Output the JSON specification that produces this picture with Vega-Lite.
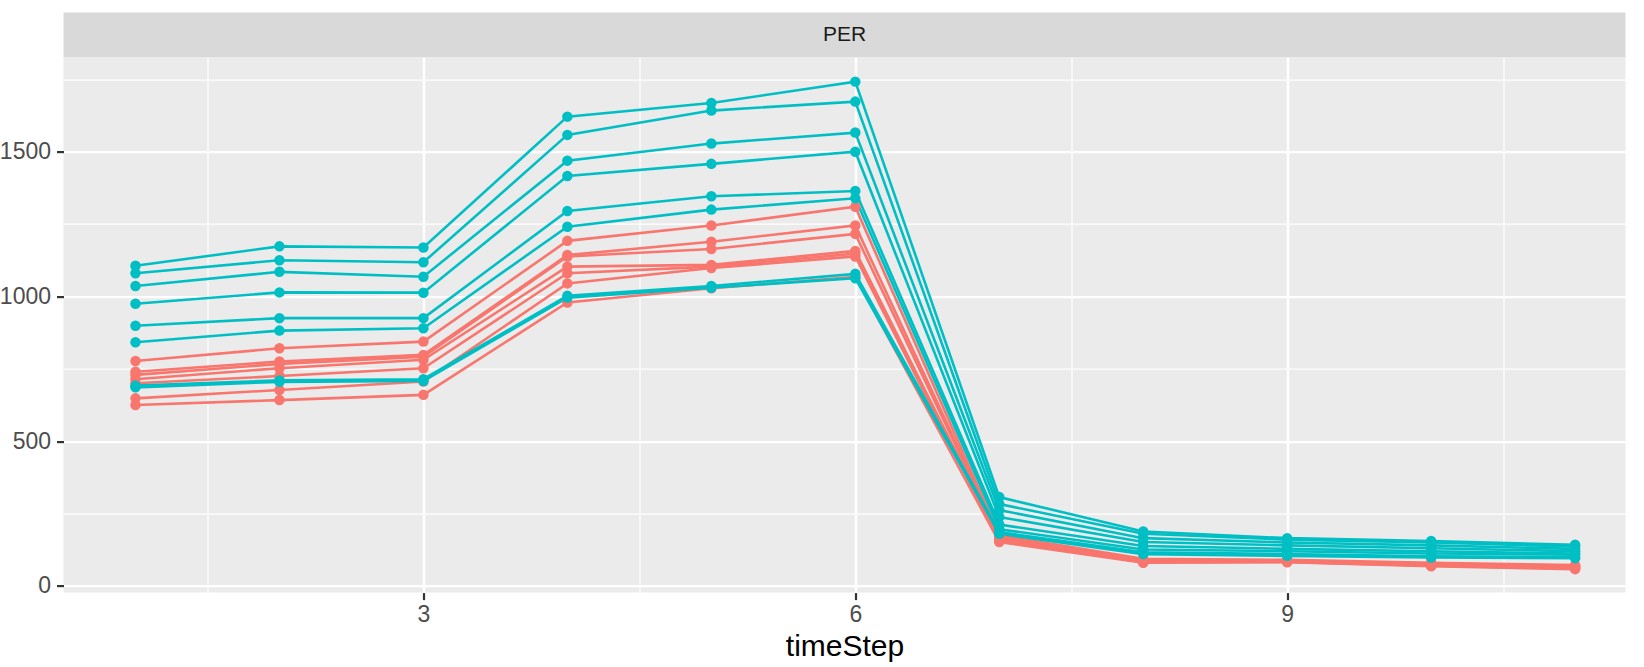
{
  "$schema": "https://vega.github.io/schema/vega-lite/v6.json",
  "padding": {"left": -1.5, "top": 12.6, "right": 19, "bottom": 0},
  "background": "white",
  "bounds": "flush",
  "spacing": 0,
  "config": {
    "font": "Liberation Sans",
    "view": {"stroke": null},
    "axis": {"labelFont": "Liberation Sans", "titleFont": "Liberation Sans"}
  },
  "datasets": {
    "runs": [
      {"run":"R1","group":"A","timeStep":1,"value":777},{"run":"R1","group":"A","timeStep":2,"value":821},{"run":"R1","group":"A","timeStep":3,"value":844},{"run":"R1","group":"A","timeStep":4,"value":1192},{"run":"R1","group":"A","timeStep":5,"value":1245},{"run":"R1","group":"A","timeStep":6,"value":1310},{"run":"R1","group":"A","timeStep":7,"value":175},{"run":"R1","group":"A","timeStep":8,"value":94},{"run":"R1","group":"A","timeStep":9,"value":90},{"run":"R1","group":"A","timeStep":10,"value":80},{"run":"R1","group":"A","timeStep":11,"value":72},
      {"run":"R2","group":"A","timeStep":1,"value":740},{"run":"R2","group":"A","timeStep":2,"value":775},{"run":"R2","group":"A","timeStep":3,"value":798},{"run":"R2","group":"A","timeStep":4,"value":1143},{"run":"R2","group":"A","timeStep":5,"value":1189},{"run":"R2","group":"A","timeStep":6,"value":1245},{"run":"R2","group":"A","timeStep":7,"value":172},{"run":"R2","group":"A","timeStep":8,"value":90},{"run":"R2","group":"A","timeStep":9,"value":88},{"run":"R2","group":"A","timeStep":10,"value":77},{"run":"R2","group":"A","timeStep":11,"value":70},
      {"run":"R3","group":"A","timeStep":1,"value":729},{"run":"R3","group":"A","timeStep":2,"value":767},{"run":"R3","group":"A","timeStep":3,"value":792},{"run":"R3","group":"A","timeStep":4,"value":1138},{"run":"R3","group":"A","timeStep":5,"value":1164},{"run":"R3","group":"A","timeStep":6,"value":1216},{"run":"R3","group":"A","timeStep":7,"value":168},{"run":"R3","group":"A","timeStep":8,"value":88},{"run":"R3","group":"A","timeStep":9,"value":86},{"run":"R3","group":"A","timeStep":10,"value":75},{"run":"R3","group":"A","timeStep":11,"value":67},
      {"run":"R4","group":"A","timeStep":1,"value":714},{"run":"R4","group":"A","timeStep":2,"value":752},{"run":"R4","group":"A","timeStep":3,"value":781},{"run":"R4","group":"A","timeStep":4,"value":1103},{"run":"R4","group":"A","timeStep":5,"value":1109},{"run":"R4","group":"A","timeStep":6,"value":1157},{"run":"R4","group":"A","timeStep":7,"value":164},{"run":"R4","group":"A","timeStep":8,"value":86},{"run":"R4","group":"A","timeStep":9,"value":85},{"run":"R4","group":"A","timeStep":10,"value":73},{"run":"R4","group":"A","timeStep":11,"value":64},
      {"run":"R5","group":"A","timeStep":1,"value":700},{"run":"R5","group":"A","timeStep":2,"value":725},{"run":"R5","group":"A","timeStep":3,"value":752},{"run":"R5","group":"A","timeStep":4,"value":1080},{"run":"R5","group":"A","timeStep":5,"value":1103},{"run":"R5","group":"A","timeStep":6,"value":1148},{"run":"R5","group":"A","timeStep":7,"value":160},{"run":"R5","group":"A","timeStep":8,"value":84},{"run":"R5","group":"A","timeStep":9,"value":84},{"run":"R5","group":"A","timeStep":10,"value":71},{"run":"R5","group":"A","timeStep":11,"value":62},
      {"run":"R6","group":"A","timeStep":1,"value":648},{"run":"R6","group":"A","timeStep":2,"value":677},{"run":"R6","group":"A","timeStep":3,"value":706},{"run":"R6","group":"A","timeStep":4,"value":1045},{"run":"R6","group":"A","timeStep":5,"value":1098},{"run":"R6","group":"A","timeStep":6,"value":1138},{"run":"R6","group":"A","timeStep":7,"value":156},{"run":"R6","group":"A","timeStep":8,"value":82},{"run":"R6","group":"A","timeStep":9,"value":83},{"run":"R6","group":"A","timeStep":10,"value":70},{"run":"R6","group":"A","timeStep":11,"value":60},
      {"run":"R7","group":"A","timeStep":1,"value":625},{"run":"R7","group":"A","timeStep":2,"value":642},{"run":"R7","group":"A","timeStep":3,"value":660},{"run":"R7","group":"A","timeStep":4,"value":979},{"run":"R7","group":"A","timeStep":5,"value":1028},{"run":"R7","group":"A","timeStep":6,"value":1068},{"run":"R7","group":"A","timeStep":7,"value":152},{"run":"R7","group":"A","timeStep":8,"value":80},{"run":"R7","group":"A","timeStep":9,"value":82},{"run":"R7","group":"A","timeStep":10,"value":68},{"run":"R7","group":"A","timeStep":11,"value":58},
      {"run":"T1","group":"B","timeStep":1,"value":1106},{"run":"T1","group":"B","timeStep":2,"value":1173},{"run":"T1","group":"B","timeStep":3,"value":1169},{"run":"T1","group":"B","timeStep":4,"value":1621},{"run":"T1","group":"B","timeStep":5,"value":1668},{"run":"T1","group":"B","timeStep":6,"value":1742},{"run":"T1","group":"B","timeStep":7,"value":307},{"run":"T1","group":"B","timeStep":8,"value":188},{"run":"T1","group":"B","timeStep":9,"value":165},{"run":"T1","group":"B","timeStep":10,"value":155},{"run":"T1","group":"B","timeStep":11,"value":142},
      {"run":"T2","group":"B","timeStep":1,"value":1080},{"run":"T2","group":"B","timeStep":2,"value":1125},{"run":"T2","group":"B","timeStep":3,"value":1118},{"run":"T2","group":"B","timeStep":4,"value":1558},{"run":"T2","group":"B","timeStep":5,"value":1642},{"run":"T2","group":"B","timeStep":6,"value":1673},{"run":"T2","group":"B","timeStep":7,"value":283},{"run":"T2","group":"B","timeStep":8,"value":180},{"run":"T2","group":"B","timeStep":9,"value":160},{"run":"T2","group":"B","timeStep":10,"value":150},{"run":"T2","group":"B","timeStep":11,"value":136},
      {"run":"T3","group":"B","timeStep":1,"value":1036},{"run":"T3","group":"B","timeStep":2,"value":1085},{"run":"T3","group":"B","timeStep":3,"value":1068},{"run":"T3","group":"B","timeStep":4,"value":1469},{"run":"T3","group":"B","timeStep":5,"value":1528},{"run":"T3","group":"B","timeStep":6,"value":1566},{"run":"T3","group":"B","timeStep":7,"value":262},{"run":"T3","group":"B","timeStep":8,"value":165},{"run":"T3","group":"B","timeStep":9,"value":150},{"run":"T3","group":"B","timeStep":10,"value":140},{"run":"T3","group":"B","timeStep":11,"value":128},
      {"run":"T4","group":"B","timeStep":1,"value":975},{"run":"T4","group":"B","timeStep":2,"value":1014},{"run":"T4","group":"B","timeStep":3,"value":1013},{"run":"T4","group":"B","timeStep":4,"value":1416},{"run":"T4","group":"B","timeStep":5,"value":1458},{"run":"T4","group":"B","timeStep":6,"value":1500},{"run":"T4","group":"B","timeStep":7,"value":238},{"run":"T4","group":"B","timeStep":8,"value":152},{"run":"T4","group":"B","timeStep":9,"value":140},{"run":"T4","group":"B","timeStep":10,"value":130},{"run":"T4","group":"B","timeStep":11,"value":120},
      {"run":"T5","group":"B","timeStep":1,"value":899},{"run":"T5","group":"B","timeStep":2,"value":925},{"run":"T5","group":"B","timeStep":3,"value":925},{"run":"T5","group":"B","timeStep":4,"value":1295},{"run":"T5","group":"B","timeStep":5,"value":1346},{"run":"T5","group":"B","timeStep":6,"value":1364},{"run":"T5","group":"B","timeStep":7,"value":212},{"run":"T5","group":"B","timeStep":8,"value":138},{"run":"T5","group":"B","timeStep":9,"value":128},{"run":"T5","group":"B","timeStep":10,"value":120},{"run":"T5","group":"B","timeStep":11,"value":112},
      {"run":"T6","group":"B","timeStep":1,"value":842},{"run":"T6","group":"B","timeStep":2,"value":882},{"run":"T6","group":"B","timeStep":3,"value":890},{"run":"T6","group":"B","timeStep":4,"value":1241},{"run":"T6","group":"B","timeStep":5,"value":1300},{"run":"T6","group":"B","timeStep":6,"value":1339},{"run":"T6","group":"B","timeStep":7,"value":196},{"run":"T6","group":"B","timeStep":8,"value":126},{"run":"T6","group":"B","timeStep":9,"value":120},{"run":"T6","group":"B","timeStep":10,"value":112},{"run":"T6","group":"B","timeStep":11,"value":108},
      {"run":"T7","group":"B","timeStep":1,"value":692},{"run":"T7","group":"B","timeStep":2,"value":710},{"run":"T7","group":"B","timeStep":3,"value":714},{"run":"T7","group":"B","timeStep":4,"value":1002},{"run":"T7","group":"B","timeStep":5,"value":1036},{"run":"T7","group":"B","timeStep":6,"value":1078},{"run":"T7","group":"B","timeStep":7,"value":186},{"run":"T7","group":"B","timeStep":8,"value":116},{"run":"T7","group":"B","timeStep":9,"value":110},{"run":"T7","group":"B","timeStep":10,"value":102},{"run":"T7","group":"B","timeStep":11,"value":100},
      {"run":"T8","group":"B","timeStep":1,"value":686},{"run":"T8","group":"B","timeStep":2,"value":705},{"run":"T8","group":"B","timeStep":3,"value":708},{"run":"T8","group":"B","timeStep":4,"value":996},{"run":"T8","group":"B","timeStep":5,"value":1030},{"run":"T8","group":"B","timeStep":6,"value":1063},{"run":"T8","group":"B","timeStep":7,"value":180},{"run":"T8","group":"B","timeStep":8,"value":110},{"run":"T8","group":"B","timeStep":9,"value":104},{"run":"T8","group":"B","timeStep":10,"value":98},{"run":"T8","group":"B","timeStep":11,"value":96}
    ]
  },
  "vconcat": [
    {
      "width": 1562,
      "height": 45,
      "view": {"fill": "#D9D9D9", "stroke": null},
      "data": {"values": [{"panel": "PER"}]},
      "mark": {"type": "text", "fontSize": 21, "color": "#1A1A1A", "font": "Liberation Sans"},
      "encoding": {
        "x": {"field": "panel", "type": "nominal", "axis": null},
        "text": {"field": "panel", "type": "nominal"}
      }
    },
    {
      "width": 1562,
      "height": 535,
      "view": {"fill": "#EBEBEB", "stroke": null},
      "data": {"name": "runs"},
      "layer": [
        {
          "mark": {"type": "line", "strokeWidth": 2.6},
          "encoding": {
            "x": {"field": "timeStep", "type": "quantitative",
              "scale": {"domain": [0.5, 11.35], "nice": false, "zero": false},
              "axis": {"orient": "bottom", "values": [3, 6, 9], "grid": true, "gridColor": "#FFFFFF", "gridWidth": 2.4,
                "domain": false, "ticks": true, "tickColor": "#333333", "tickWidth": 2.2, "tickSize": 7,
                "labelFontSize": 23, "labelColor": "#4D4D4D", "labelPadding": 4,
                "title": "timeStep", "titleFontSize": 30, "titleColor": "#000000", "titleFontWeight": "normal", "titlePadding": 5}},
            "y": {"field": "value", "type": "quantitative",
              "scale": {"domain": [-23, 1825], "nice": false, "zero": false},
              "axis": {"orient": "left", "values": [0, 500, 1000, 1500], "format": "d", "grid": true, "gridColor": "#FFFFFF", "gridWidth": 2.4,
                "domain": false, "ticks": true, "tickColor": "#333333", "tickWidth": 2.2, "tickSize": 7,
                "labelFontSize": 23, "labelColor": "#4D4D4D", "labelPadding": 6, "title": null}},
            "color": {"field": "group", "type": "nominal", "scale": {"domain": ["A", "B"], "range": ["#F8766D", "#00BFC4"]}, "legend": null},
            "detail": {"field": "run", "type": "nominal"}
          }
        },
        {
          "mark": {"type": "point", "filled": true, "size": 110, "opacity": 1},
          "encoding": {
            "x": {"field": "timeStep", "type": "quantitative",
              "scale": {"domain": [0.5, 11.35], "nice": false, "zero": false},
              "axis": {"orient": "top", "values": [1.5, 4.5, 7.5, 10.5], "grid": true, "gridColor": "#FFFFFF", "gridWidth": 1.2,
                "domain": false, "ticks": false, "labels": false, "title": null, "minExtent": 0, "maxExtent": 0}},
            "y": {"field": "value", "type": "quantitative",
              "scale": {"domain": [-23, 1825], "nice": false, "zero": false},
              "axis": {"orient": "right", "values": [250, 750, 1250, 1750], "grid": true, "gridColor": "#FFFFFF", "gridWidth": 1.2,
                "domain": false, "ticks": false, "labels": false, "title": null, "minExtent": 0, "maxExtent": 0}},
            "color": {"field": "group", "type": "nominal", "scale": {"domain": ["A", "B"], "range": ["#F8766D", "#00BFC4"]}, "legend": null},
            "detail": {"field": "run", "type": "nominal"}
          }
        }
      ],
      "resolve": {"axis": {"x": "independent", "y": "independent"}}
    }
  ]
}
